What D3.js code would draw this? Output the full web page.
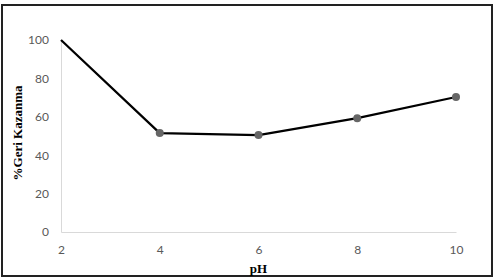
<!DOCTYPE html>
<html>
<head>
<meta charset="utf-8">
<script src="https://cdn.jsdelivr.net/npm/d3@7"></script>
<style>
	body { margin: 0; background: #fff; }
	svg { display: block; }
</style>
</head>
<body>
<svg width="498" height="279"></svg>
<script>
// Data
var ph_values = [2, 4, 6, 8, 10];
var recovery = [100, 51.5, 50.5, 59.3, 70.3];
var x_ticks = [2, 4, 6, 8, 10];
var y_ticks = [0, 20, 40, 60, 80, 100];
var x_title = 'pH';
var y_title = '%Geri Kazanma';

var plot_left = 61, plot_right = 456, plot_top = 40, plot_bottom = 232;

var svg = d3.select('svg');

// Frame
svg.append('rect')
	.attr('x', 2).attr('y', 5)
	.attr('width', 490).attr('height', 271)
	.attr('fill', 'none')
	.attr('stroke', '#222')
	.attr('stroke-width', 2);

var x = d3.scaleLinear().domain([2, 10]).range([plot_left, plot_right]);
var y = d3.scaleLinear().domain([0, 100]).range([plot_bottom, plot_top]);

// Axes
var xAxis = svg.append('g')
	.attr('transform', 'translate(0,' + plot_bottom + ')')
	.call(d3.axisBottom(x).tickValues(x_ticks).tickSize(0).tickPadding(13));
var yAxis = svg.append('g')
	.attr('transform', 'translate(' + plot_left + ',0)')
	.call(d3.axisLeft(y).tickValues(y_ticks).tickSize(0).tickPadding(12));

[xAxis, yAxis].forEach(function(a)
{
	a.select('.domain').attr('stroke', '#d9d9d9').attr('stroke-width', 1);
	a.selectAll('text')
		.attr('fill', '#595959')
		.style('font-family', 'Lato, "Open Sans", sans-serif')
		.style('font-size', '12px');
});

// Line
var line = d3.line()
	.x(function(d, i) { return x(ph_values[i]); })
	.y(function(d) { return y(d); });
svg.append('path')
	.datum(recovery)
	.attr('d', line)
	.attr('fill', 'none')
	.attr('stroke', '#000')
	.attr('stroke-width', 2.25)
	.attr('stroke-linejoin', 'round');

// Markers (the first point has none)
svg.selectAll('.marker')
	.data(recovery.slice(1))
	.enter().append('circle')
	.attr('class', 'marker')
	.attr('cx', function(d, i) { return x(ph_values[i + 1]); })
	.attr('cy', function(d) { return y(d); })
	.attr('r', 4)
	.attr('fill', '#666');

// Titles
svg.append('text')
	.attr('x', (plot_left + plot_right) / 2)
	.attr('y', 273)
	.attr('text-anchor', 'middle')
	.style('font-family', '"Liberation Serif", serif')
	.style('font-weight', 'bold')
	.style('font-size', '13px')
	.text(x_title);
svg.append('text')
	.attr('transform', 'translate(22,133) rotate(-90)')
	.attr('text-anchor', 'middle')
	.style('font-family', '"Liberation Serif", serif')
	.style('font-weight', 'bold')
	.style('font-size', '13px')
	.text(y_title);
</script>
</body>
</html>
